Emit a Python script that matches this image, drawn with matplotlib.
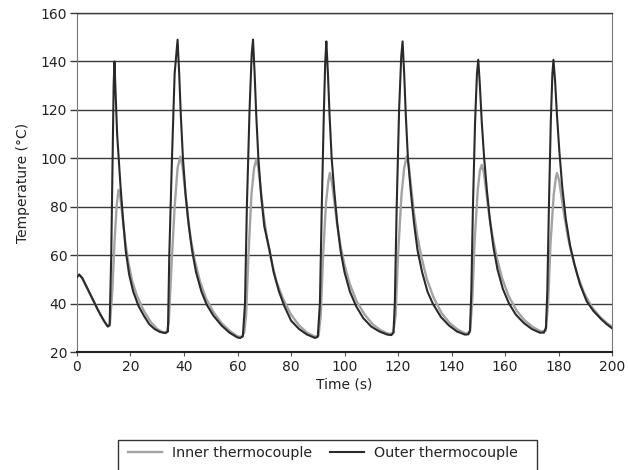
import matplotlib
matplotlib.use("Agg")
import matplotlib.pyplot as plt
from matplotlib.patches import Rectangle

# Outer thermocouple: time (s) and temperature (°C)
outer_time = [
    0, 0.8, 2, 4, 6, 8, 10, 11.5, 12.2,
    12.8, 13.3, 13.7, 14.0,
    14.5, 15.0, 15.6, 16.3, 17.2, 18.2, 19.5, 21, 23, 25, 27, 29, 31, 33, 34,
    34.5, 35.5, 36.5, 37.6,
    38.2, 38.8, 39.6, 40.6, 41.8, 43, 44.5, 46.5, 48.5, 51, 54, 57, 60, 61, 62,
    62.8, 63.5, 64.5, 65.3, 65.8,
    66.4, 67.0, 67.8, 68.8, 70, 72, 73.5, 75.5, 77.5, 80, 83, 86, 89, 90,
    90.8, 91.5, 92.3, 92.8, 93.2,
    93.8, 94.4, 95.2, 96.2, 97.3, 98.5, 100, 102, 104.3, 107, 110, 113, 116, 117.5, 118.3,
    118.8, 119.5, 120.4, 121.2, 121.7,
    122.3, 122.9, 123.7, 124.8, 126, 127.3, 129, 131, 133, 136, 139, 142, 145, 146.3, 146.9,
    147.4, 148, 148.8, 149.5, 150,
    150.6, 151.3, 152.2, 153.2, 154.4, 155.7, 157.2, 159.2, 161.5, 164, 167, 170, 173, 174.5, 175.3,
    175.8, 176.4, 177.1, 177.7, 178.1,
    178.7, 179.4, 180.3, 181.4, 182.7, 184.3, 186, 188, 190.5, 193, 196, 198, 200,
]
outer_temp = [
    51, 52, 50.5, 46, 41.5, 37, 33, 30.5, 31,
    60, 100, 130, 140,
    125, 110, 100, 88, 75, 62, 52, 45, 39, 35, 31.5, 29.5, 28.3, 27.8, 28.5,
    60, 100, 135, 149,
    135, 118, 100, 85, 72, 62, 53, 45, 39.5, 35, 31, 28, 26, 25.8, 26.5,
    40, 80, 120, 143, 149,
    135, 118, 100, 85, 72, 62, 53, 45, 39, 33, 29.5, 27.2, 25.8, 26.3,
    40, 80, 120, 140, 148.3,
    135, 118, 100, 86, 73, 62, 53, 45, 39, 34, 30.5, 28.5, 27.2, 27, 28,
    40, 80, 120, 142, 148.3,
    135, 118, 100, 86, 73, 62, 53, 45, 40, 34.5, 31, 28.5, 27.2, 27.3, 29,
    45, 80, 115, 135, 140.7,
    130, 115, 100, 87, 74, 63, 54, 46, 40, 35.5, 32, 29.5, 28, 28, 30,
    45, 80, 115, 135, 140.7,
    132, 118, 103, 88, 75, 64, 56, 48, 41, 37, 33.5, 31.5, 29.8,
]

# Inner thermocouple: time (s) and temperature (°C)
inner_time = [
    0, 0.8, 2, 4, 6, 8, 10, 11.5, 12.3,
    13.2, 14.0, 14.8, 15.5,
    16.2, 17, 18, 19.2, 20.7, 22.5, 25, 27.5, 30, 32, 33.5,
    34.3, 35.3, 36.5, 37.6, 38.6,
    39.4, 40.3, 41.3, 42.5, 44, 46, 48.3, 51, 54, 57, 60, 61.5, 62.5,
    63.2, 64.1, 65.2, 66.2, 67,
    67.8, 68.7, 69.7, 71, 72.6, 74.6, 77, 80, 83, 86, 89, 90.3,
    91.1, 92, 93.1, 94, 94.5,
    95.3, 96.2, 97.2, 98.5, 100, 102, 104.5, 107.5, 110.5, 113.5, 116.5, 118.2,
    119.1, 120, 121.3, 122.3, 123.2,
    124, 124.9, 125.9, 127.2, 128.8, 130.8, 133.3, 136.3, 139.3, 142.3, 145.3, 146.9,
    147.7, 148.6, 149.8, 150.6, 151.3,
    152.1, 153, 154, 155.3, 156.9, 158.9, 161.4, 164.4, 167.4, 170.4, 173.4, 175.2,
    176.1, 177, 178.2, 179, 179.4,
    180.2, 181.1, 182.2, 183.5, 185, 187, 189.5, 192.5, 195.5, 198, 200,
]
inner_temp = [
    51, 52, 50.5, 46, 41.5, 37, 33, 30.7, 31.5,
    45, 65, 80, 87,
    84, 76, 66, 57, 49, 43, 37, 32.5, 29.5, 28.2, 28.2,
    32, 55, 80, 96, 100.7,
    97, 88, 77, 67, 58, 49, 42, 36.5, 32, 28.8, 26.5, 26.2, 28,
    35, 60, 85, 96, 99.5,
    96, 87, 77, 67, 58, 49, 42, 35.5, 31, 28, 26.3, 26.8,
    35, 60, 82, 91, 93.9,
    90, 82, 73, 64, 56, 48, 41, 35.5, 31.5, 29, 27.5, 27.8,
    35, 60, 85, 96, 100.7,
    97, 88, 78, 68, 59, 50, 42.5, 36, 32, 29.3, 27.6, 28.2,
    40, 65, 87, 95, 97.3,
    94, 86, 77, 68, 59, 50.5, 43, 37, 33, 30.3, 28.5, 28.8,
    40, 65, 85, 92, 93.9,
    91, 84, 76, 67.5, 60, 52, 44.5, 38.5, 34.5, 32, 30.5,
]

series_labels = ["Inner thermocouple", "Outer thermocouple"]
x_ticks = [0, 20, 40, 60, 80, 100, 120, 140, 160, 180, 200]
y_ticks = [20, 40, 60, 80, 100, 120, 140, 160]

plt.rcParams["font.family"] = ["DejaVu Sans"]
plt.rcParams["font.size"] = 10

fig = plt.figure(figsize=(6.28, 4.70), dpi=100)
ax = fig.add_axes([0.1226, 0.251, 0.852, 0.7213])

ink = "#222222"
(inner_line,) = ax.plot(inner_time, inner_temp, color="#a3a3a3", lw=1.7,
                        label=series_labels[0], zorder=3)
(outer_line,) = ax.plot(outer_time, outer_temp, color="#2a2a2a", lw=1.5,
                        label=series_labels[1], zorder=4)

ax.set_xlim(0, 200)
ax.set_ylim(20, 160)
ax.set_xticks(x_ticks)
ax.set_yticks(y_ticks)
ax.yaxis.grid(True, color="#3a3a3a", lw=1.0)
ax.set_axisbelow(True)

for side in ["left", "right"]:
    ax.spines[side].set_color("#777777")
    ax.spines[side].set_linewidth(0.8)
ax.spines["bottom"].set_color(ink)
ax.spines["bottom"].set_linewidth(1.5)
ax.spines["top"].set_color("#3a3a3a")
ax.spines["top"].set_linewidth(1.0)

ax.tick_params(axis="y", direction="out", length=5, width=1.0, color="#3a3a3a",
               labelcolor=ink, pad=2)
ax.tick_params(axis="x", direction="out", length=3, width=0.8, color="#555555",
               labelcolor=ink, pad=3)

ax.set_xlabel("Time (s)", color=ink, labelpad=2)
ax.set_ylabel("Temperature (°C)", color=ink, labelpad=8)

fig.legend(handles=[inner_line, outer_line], labels=series_labels,
           loc="upper center", bbox_to_anchor=(0.514, 0.0790), ncol=2,
           frameon=False, handlelength=2.4, handletextpad=0.7,
           columnspacing=1.2, labelcolor=ink, fontsize=10.3)
fig.patches.append(Rectangle((118 / 628, -0.1), (537 - 118) / 628, 0.1 + 30 / 470,
                             transform=fig.transFigure, fill=False,
                             ec="#333333", lw=1.0))

fig.savefig("out.png", dpi=100, facecolor="white")
